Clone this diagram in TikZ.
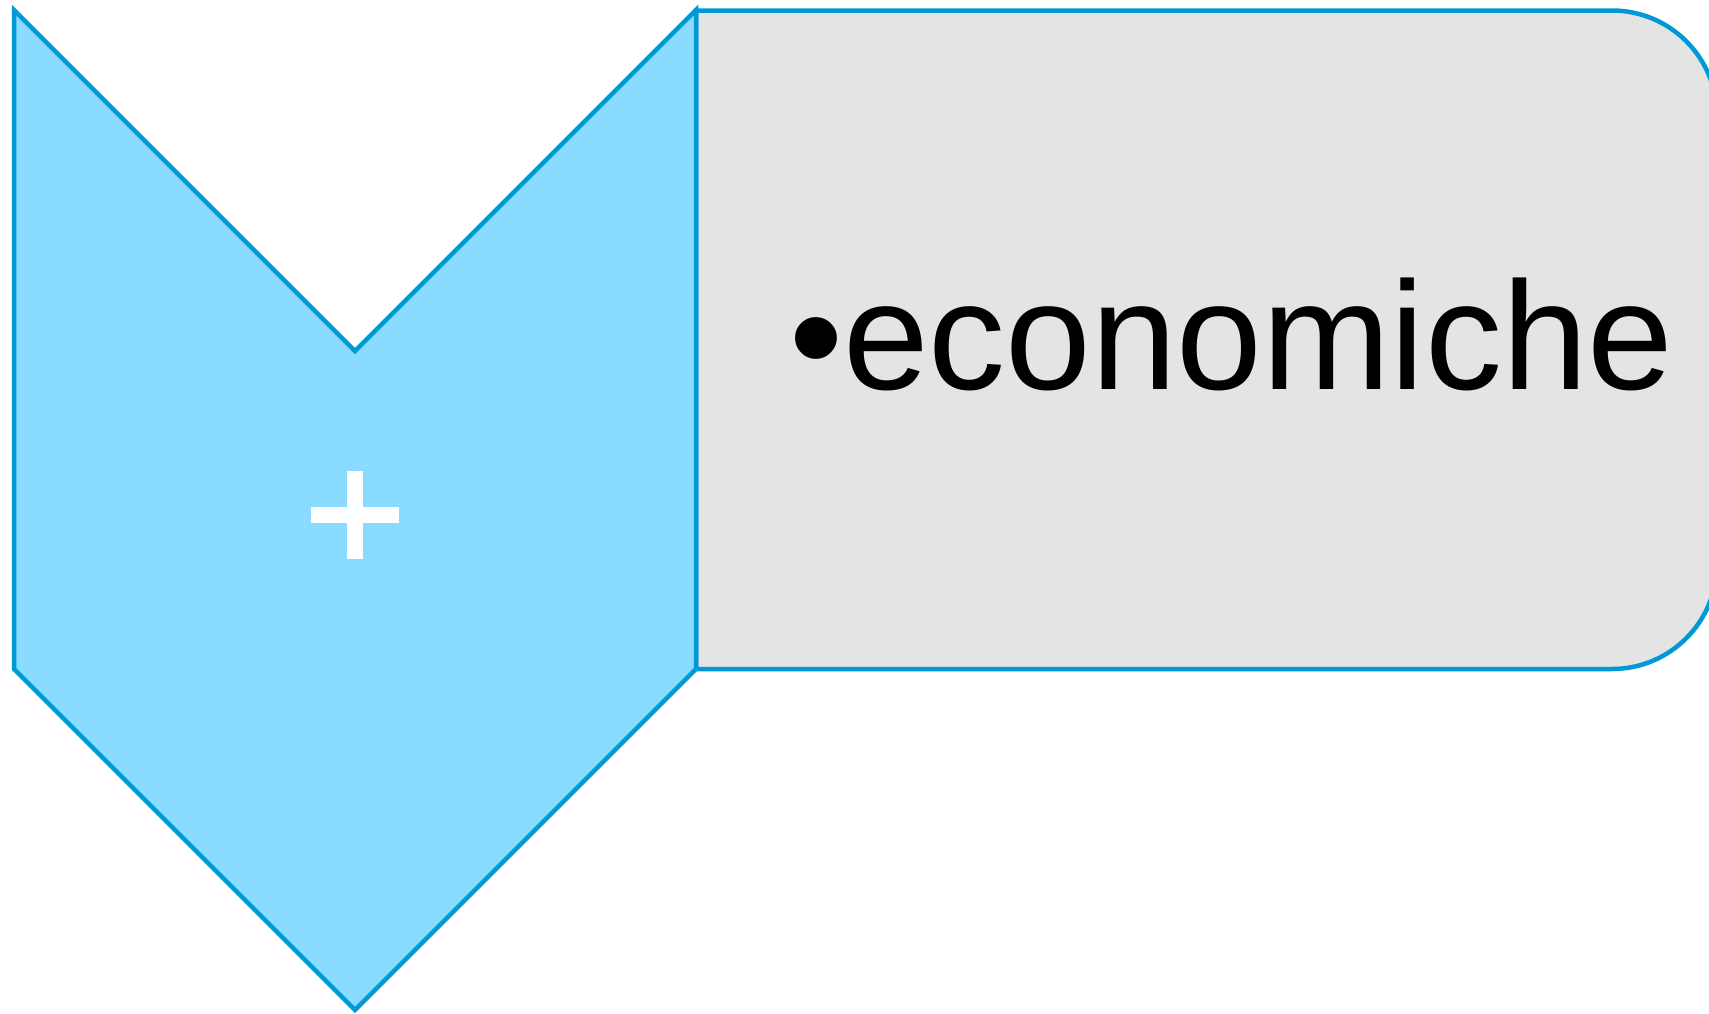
\documentclass[tikz,border=0pt]{standalone}
\usepackage{fontspec}
\setmainfont{Liberation Sans}
\definecolor{chevfill}{RGB}{137,219,255}
\definecolor{edge}{RGB}{0,153,214}
\definecolor{boxfill}{RGB}{228,228,228}
\tikzset{
  shapeline/.style={draw=edge, line width=4.5pt, line join=miter},
  plusbar/.style={fill=white, draw=none},
  label/.style={inner sep=0pt, anchor=base west, font=\fontsize{154}{180}\selectfont}
}
\begin{document}
\begin{tikzpicture}[x=1pt,y=-1pt]
\useasboundingbox (0,0) rectangle (1709,1013);
\clip (0,0) rectangle (1709,1013);
% rounded box
\draw[shapeline, fill=boxfill] (696,10.5) [rounded corners=105pt] -- (1717,10.5) -- (1717,669) [sharp corners] -- (696,669) -- cycle;
% chevron
\draw[shapeline, fill=chevfill] (14,10) -- (355,351) -- (696,10) -- (696,669) -- (355,1010) -- (14,669) -- cycle;
% plus
\fill[plusbar] (311,507) rectangle (399,523);
\fill[plusbar] (347,471) rectangle (363,559);
\node[label] (txt) at (789,389) {•economiche};
\end{tikzpicture}
\end{document}
